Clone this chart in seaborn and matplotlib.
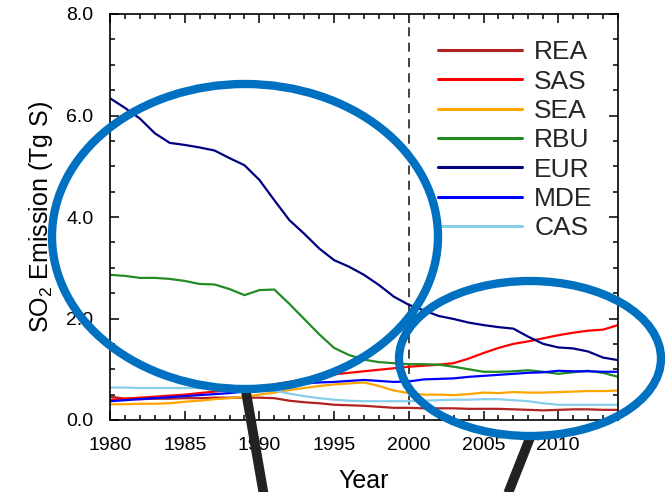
import numpy as np
import pandas as pd
import matplotlib
matplotlib.use("Agg")
import matplotlib.pyplot as plt
from matplotlib.patches import Ellipse
from matplotlib.lines import Line2D
from matplotlib.ticker import MultipleLocator, FormatStrFormatter
import seaborn as sns

years = list(range(1980, 2015))

rea = [0.46, 0.42, 0.41, 0.42, 0.42, 0.43, 0.43, 0.44, 0.44, 0.44,
       0.44, 0.43, 0.38, 0.35, 0.33, 0.30, 0.29, 0.28, 0.26, 0.24,
       0.24, 0.23, 0.23, 0.23, 0.22, 0.22, 0.22, 0.21, 0.20, 0.19,
       0.20, 0.21, 0.21, 0.20, 0.20]
sas = [0.40, 0.42, 0.44, 0.46, 0.48, 0.50, 0.53, 0.56, 0.59, 0.62,
       0.66, 0.70, 0.75, 0.80, 0.86, 0.90, 0.93, 0.96, 0.99, 1.02,
       1.05, 1.07, 1.09, 1.12, 1.21, 1.32, 1.42, 1.50, 1.55, 1.61,
       1.67, 1.72, 1.76, 1.78, 1.87]
sea = [0.31, 0.31, 0.32, 0.32, 0.33, 0.36, 0.38, 0.41, 0.43, 0.46,
       0.50, 0.54, 0.59, 0.63, 0.67, 0.70, 0.72, 0.74, 0.67, 0.58,
       0.53, 0.50, 0.50, 0.49, 0.51, 0.54, 0.53, 0.55, 0.54, 0.54,
       0.55, 0.56, 0.57, 0.57, 0.58]
rbu = [2.86, 2.84, 2.80, 2.80, 2.78, 2.74, 2.68, 2.67, 2.58, 2.46,
       2.56, 2.57, 2.29, 1.99, 1.69, 1.42, 1.28, 1.19, 1.14, 1.12,
       1.10, 1.10, 1.09, 1.05, 1.00, 0.95, 0.95, 0.96, 0.98, 0.95,
       0.91, 0.94, 0.97, 0.93, 0.85]
eur = [6.34, 6.15, 5.94, 5.65, 5.46, 5.42, 5.37, 5.31, 5.16, 5.02,
       4.73, 4.33, 3.94, 3.67, 3.38, 3.15, 3.02, 2.86, 2.66, 2.43,
       2.27, 2.16, 2.05, 1.99, 1.92, 1.87, 1.83, 1.80, 1.64, 1.50,
       1.43, 1.41, 1.35, 1.23, 1.18]
mde = [0.37, 0.39, 0.41, 0.43, 0.45, 0.47, 0.49, 0.51, 0.53, 0.56,
       0.60, 0.65, 0.70, 0.72, 0.74, 0.75, 0.77, 0.79, 0.77, 0.75,
       0.76, 0.80, 0.81, 0.82, 0.85, 0.87, 0.89, 0.91, 0.93, 0.94,
       0.97, 0.96, 0.96, 0.95, 0.95]
cas = [0.64, 0.64, 0.63, 0.63, 0.63, 0.63, 0.63, 0.62, 0.62, 0.61,
       0.60, 0.58, 0.52, 0.47, 0.43, 0.40, 0.38, 0.37, 0.37, 0.37,
       0.37, 0.38, 0.39, 0.40, 0.40, 0.41, 0.41, 0.39, 0.37, 0.33,
       0.30, 0.30, 0.30, 0.30, 0.30]

regions = ["REA", "SAS", "SEA", "RBU", "EUR", "MDE", "CAS"]
series = [rea, sas, sea, rbu, eur, mde, cas]
colors = ["#b22222", "#ff0000", "#ffa500", "#228b22", "#000080", "#0000ff", "#87ceeb"]

df = pd.DataFrame({
    "Year": np.tile(years, len(regions)),
    "Emission": np.concatenate(series),
    "Region": np.repeat(regions, len(years)),
})

sns.set_style("white")
plt.rcParams["font.family"] = ["Liberation Sans", "DejaVu Sans"]
plt.rcParams["mathtext.fontset"] = "custom"
plt.rcParams["mathtext.rm"] = "Liberation Sans"

fig = plt.figure(figsize=(6.65, 4.92), dpi=100)
ax = fig.add_axes([110 / 665, 72 / 492, 508 / 665, 406 / 492])

sns.lineplot(data=df, x="Year", y="Emission", hue="Region", hue_order=regions,
             palette=dict(zip(regions, colors)), linewidth=1.6, ax=ax, legend=False)

ax.axvline(2000, color="#333333", linewidth=1.3, linestyle=(0, (5, 3.5)), zorder=1)

ax.set_xlim(1980, 2014)
ax.set_ylim(0, 8)
ax.xaxis.set_major_locator(MultipleLocator(5))
ax.xaxis.set_minor_locator(MultipleLocator(1))
ax.yaxis.set_major_locator(MultipleLocator(2))
ax.yaxis.set_minor_locator(MultipleLocator(0.5))
ax.yaxis.set_major_formatter(FormatStrFormatter("%.1f"))

for s in ax.spines.values():
    s.set_linewidth(1.2)
    s.set_color("black")
ax.tick_params(which="both", direction="in", bottom=True, left=True, top=True,
               right=True, color="black", width=1.1)
ax.tick_params(which="major", length=6.5, labelsize=14, labelcolor="black")
ax.tick_params(which="minor", length=3.5)
ax.tick_params(axis="x", which="major", pad=12)
ax.tick_params(axis="y", which="major", pad=12)

ax.set_xlabel("Year", fontsize=18, labelpad=11, color="black")
ax.set_ylabel("SO$_2$ Emission (Tg S)", fontsize=18, labelpad=8, color="black")

handles = [Line2D([], [], color=c, linewidth=2.2) for c in colors]
ax.legend(handles, regions, loc="upper left", bbox_to_anchor=(0.6457, 0.935),
          frameon=False, fontsize=19, handlelength=3.2, handletextpad=0.45,
          labelspacing=0.2, borderpad=0, borderaxespad=0)

# Callout ellipses and pointer bars
W, H = 665.0, 492.0
ell_color = "#0070c0"
for cx, cy, w, h in [(245, 236.5, 386, 305), (530, 358.5, 262, 155)]:
    fig.add_artist(Ellipse((cx / W, 1 - cy / H), w / W, h / H,
                           transform=fig.transFigure, fill=False,
                           edgecolor=ell_color, linewidth=6, zorder=10))
for (x0, y0), (x1, y1) in [((246, 392), (264, 496)), ((530, 438), (507, 496))]:
    fig.add_artist(Line2D([x0 / W, x1 / W], [1 - y0 / H, 1 - y1 / H],
                          transform=fig.transFigure, color="#222222",
                          linewidth=7, solid_capstyle="butt", zorder=9))

fig.savefig("out.png", dpi=100)
